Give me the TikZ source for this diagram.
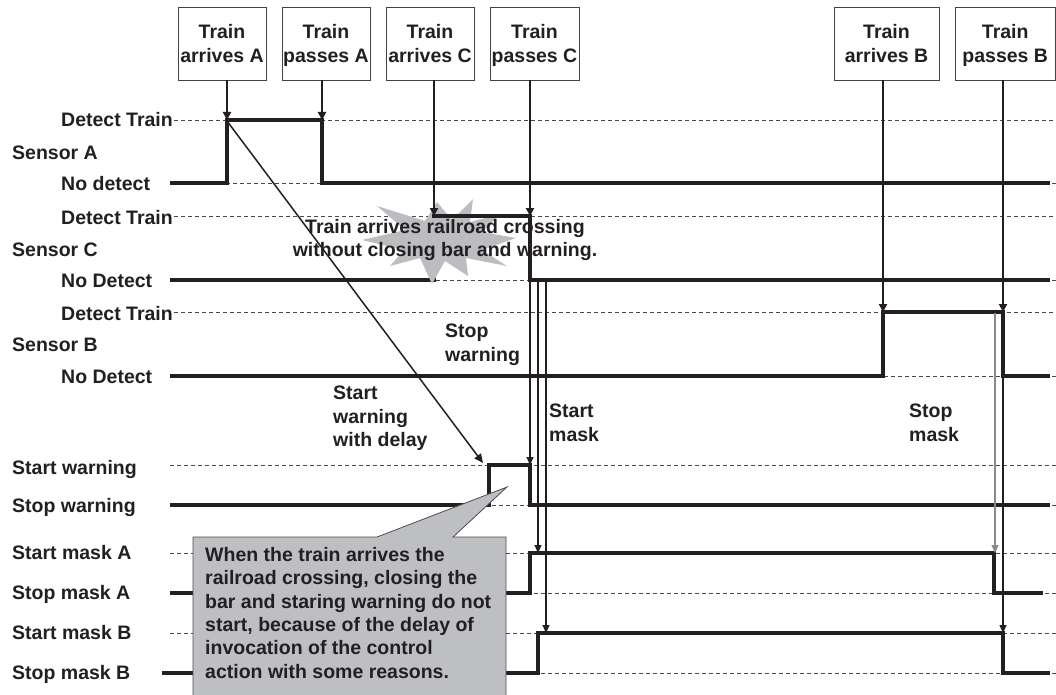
\documentclass[tikz,border=0pt]{standalone}
\usepackage{fontspec}
\setmainfont{Liberation Sans}
\usetikzlibrary{arrows.meta}
\definecolor{ink}{HTML}{231F20}
\definecolor{calloutgray}{HTML}{BEBFC2}
\definecolor{burstgray}{HTML}{BCBDC1}
\definecolor{gridgray}{HTML}{4A4A4A}
\definecolor{maskgray}{HTML}{8A8A8A}

\begin{document}
\begin{tikzpicture}[x=1pt,y=-1pt,
  lbl/.style={font=\fontsize{19.5}{23.4}\selectfont\bfseries, text=ink, inner sep=0pt},
  evbox/.style={lbl, draw=ink!85, line width=0.9pt, minimum height=73pt, align=center},
  evarrow/.style={ink, line width=2pt, -{Triangle[width=8pt,length=8pt]}},
  sig/.style={ink, line width=3.6pt, line join=miter},
  level/.style={gridgray, line width=0.9pt, dash pattern=on 4pt off 3pt},
  cause/.style={ink, line width=1.1pt, -{Triangle[width=7pt,length=8pt]}},
]
\useasboundingbox (0,0) rectangle (1056,695);

% ---- event boxes along the top
\node[evbox, minimum width=88pt]  (arrA)  at (222,43.5)   {Train\\arrives A};
\node[evbox, minimum width=88pt]  (pasA)  at (326,43.5)   {Train\\\smash{passes A}};
\node[evbox, minimum width=88pt]  (arrC)  at (430,43.5)   {Train\\arrives C};
\node[evbox, minimum width=89pt]  (pasC)  at (534.5,43.5) {Train\\\smash{passes C}};
\node[evbox, minimum width=105pt] (arrB)  at (886.5,43.5) {Train\\arrives B};
\node[evbox, minimum width=100.5pt] (pasB) at (1005.25,43.5) {Train\\\smash{passes B}};

% ---- reference levels (dashed)
\foreach \y/\x in {120/174,183/170,216/174,280/170,312/174,376/170,
                   465/170,505/170,553/170,593/170,633/170,673/170}
  \draw[level] (\x,\y) -- (1056,\y);

% ---- Sensor C rising part lies under the burst
\draw[sig] (170,280) -- (434,280) -- (434,216);

% ---- collision burst behind the warning text
\fill[burstgray] (516,238) -- (482,232) -- (500,214) -- (470,222) -- (473,199)
  -- (452,220) -- (437,202) -- (425,221) -- (377,206) -- (405,230) -- (362,240)
  -- (404,250) -- (390,266) -- (420,258) -- (432,284) -- (445,261) -- (468,276)
  -- (466,258) -- (507,266) -- (482,250) -- cycle;

% ---- signal traces
\draw[sig] (170,183) -- (227,183) -- (227,120) -- (322,120) -- (322,183) -- (1050,183);
\draw[sig] (432.2,216) -- (530,216) -- (530,280) -- (1050,280);
\draw[sig] (170,376) -- (883,376) -- (883,312) -- (1003,312) -- (1003,376) -- (1050,376);
\draw[sig] (170,505) -- (489,505) -- (489,465) -- (530,465) -- (530,505) -- (1050,505);
\draw[sig] (170,593) -- (530,593) -- (530,553) -- (994,553) -- (994,593) -- (1043,593);
\draw[sig] (162,673) -- (538,673) -- (538,633) -- (1003,633) -- (1003,673) -- (1050,673);

% ---- edge points of the traces
\coordinate (aRise)  at (227,120);
\coordinate (aFall)  at (322,120);
\coordinate (cRise)  at (434,216);
\coordinate (cFall)  at (530,216);
\coordinate (bRise)  at (883,312);
\coordinate (bFall)  at (1003,312);
\coordinate (cLow1)  at (530,280);
\coordinate (cLow2)  at (538,280);
\coordinate (cLow3)  at (546,280);
\coordinate (bHigh)  at (995,313);
\coordinate (bLow)   at (1003,376);
\coordinate (wRise)  at (483,463);
\coordinate (wFall)  at (530,465);
\coordinate (maRise) at (538,553);
\coordinate (mbRise) at (546,633);
\coordinate (maFall) at (995,553);
\coordinate (mbFall) at (1003,633);

% ---- event arrows
\draw[evarrow] (aRise |- arrA.south) -- (aRise);
\draw[evarrow] (aFall |- pasA.south) -- (aFall);
\draw[evarrow] (cRise |- arrC.south) -- (cRise);
\draw[evarrow] (cFall |- pasC.south) -- (cFall);
\draw[evarrow] (bRise |- arrB.south) -- (bRise);
\draw[evarrow] (bFall |- pasB.south) -- (bFall);

% ---- causal links between traces
\draw[ink, line width=1.5pt, -{Triangle[width=8pt,length=9pt]}] (227,121) -- (wRise);
\draw[cause] (cLow1) -- (wFall);
\draw[cause] (cLow2) -- (maRise);
\draw[cause] (cLow3) -- (mbRise);
\draw[cause, maskgray] (bHigh) -- (maFall);
\draw[cause] (bLow) -- (mbFall);

% ---- callout
\draw[fill=calloutgray, draw=ink!80, line width=0.8pt]
  (193,700) -- (193,537) -- (377,537) -- (507,487) -- (453,537) -- (506,537) -- (506,700);
\node[lbl, anchor=north west, align=left] (note) at (205,547)
  {When the train arrives the\\railroad crossing, closing the\\bar and staring warning do not\\start, because of the delay of\\invocation of the control\\action with some reasons.};

% ---- row labels
\node[lbl, anchor=base west] (l1)  at (61,127) {Detect Train};
\node[lbl, anchor=base west] (l2)  at (12,160) {Sensor A};
\node[lbl, anchor=base west] (l3)  at (61,190) {No detect};
\node[lbl, anchor=base west] (l4)  at (61,224) {Detect Train};
\node[lbl, anchor=base west] (l5)  at (12,256) {Sensor C};
\node[lbl, anchor=base west] (l6)  at (61,287) {No Detect};
\node[lbl, anchor=base west] (l7)  at (61,320) {Detect Train};
\node[lbl, anchor=base west] (l8)  at (12,351) {Sensor B};
\node[lbl, anchor=base west] (l9)  at (61,383) {No Detect};
\node[lbl, anchor=base west] (l10) at (12,474) {Start warning};
\node[lbl, anchor=base west] (l11) at (12,512) {Stop warning};
\node[lbl, anchor=base west] (l12) at (12,559) {Start mask A};
\node[lbl, anchor=base west] (l13) at (12,599) {Stop mask A};
\node[lbl, anchor=base west] (l14) at (12,639) {Start mask B};
\node[lbl, anchor=base west] (l15) at (12,679) {Stop mask B};

% ---- annotations
\node[lbl, anchor=north west, align=left] (t1) at (333,386) {Start\\warning\\with delay};
\node[lbl, anchor=north west, align=left] (t2) at (445,324) {Stop\\warning};
\node[lbl, anchor=north west, align=left] (t3) at (549,404) {Start\\mask};
\node[lbl, anchor=north west, align=left] (t4) at (909,404) {Stop\\mask};
\node[lbl, anchor=north, align=center] (t5) at (445,219)
  {Train arrives railroad crossing\\without closing bar and warning.};
\end{tikzpicture}
\end{document}
